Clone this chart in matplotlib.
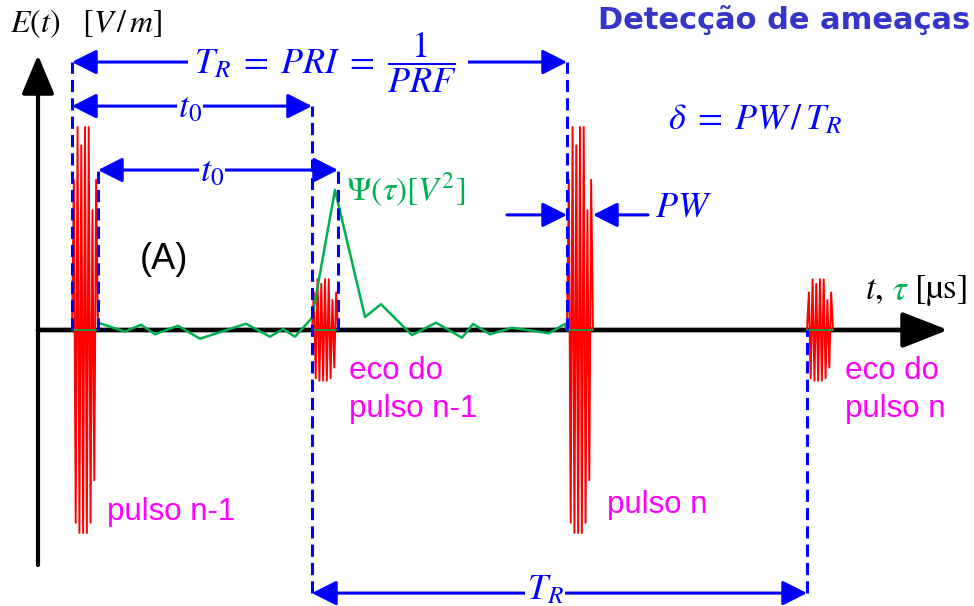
import numpy as np
import matplotlib
matplotlib.use('Agg')
import matplotlib.pyplot as plt

plt.rcParams['mathtext.fontset'] = 'stix'
plt.rcParams['font.family'] = ['Liberation Sans', 'DejaVu Sans']

# Timing of the pulse train (arbitrary time units)
T_R = 495        # pulse repetition interval
t0 = 240         # echo delay
PW = 26          # pulse width
pulse_starts = [0, T_R]
echo_starts = [t0, T_R + t0]
pulse_amp = 1.0
echo_amp = 0.25

# Normalised carrier samples inside one pulse
carrier = [0.0, 0.74, -0.95, 1.0, -1.0, 0.91, -1.0, 1.0, -1.0, 1.0, -0.95, 0.59, -0.74, 0.74, 0.0]

# Matched-filter output Psi(tau)
psi_t = [26, 53, 69, 83, 106, 128, 174, 198, 211, 223, 240, 263, 293, 309,
         340, 364, 390, 401, 418, 440, 477, 493, 495]
psi_v = [0.036, -0.008, 0.026, -0.021, 0.021, -0.043, 0.031, -0.033, 0.005,
         -0.033, 0.06, 0.69, 0.064, 0.127, -0.025, 0.036, -0.038, 0.030,
         -0.021, 0.011, -0.016, 0.030, 0.0]

blue = '#0000FF'
green = '#00B050'
magenta = '#FF00FF'
red = '#FF0000'

fig = plt.figure(figsize=(9.74, 6.06), dpi=100)
ax = fig.add_axes([0, 0, 1, 1])
ax.set_xlim(-72, 902)
ax.set_ylim(-276 / 203, 330 / 203)
ax.axis('off')

# Axes arrows
ax.annotate('', xy=(-34, 1.355), xytext=(-34, -1.158),
            arrowprops=dict(arrowstyle='-|>,head_length=1.2,head_width=0.5',
                            mutation_scale=20, lw=3.0, color='black',
                            shrinkA=0, shrinkB=0))
ax.annotate('', xy=(876, 0), xytext=(-34, 0),
            arrowprops=dict(arrowstyle='-|>,head_length=1.4,head_width=0.55',
                            mutation_scale=20, lw=3.4, color='black',
                            shrinkA=0, shrinkB=0), zorder=1)

# Pulses and echoes
for s in pulse_starts:
    x = np.linspace(s, s + PW, len(carrier))
    ax.plot(x, pulse_amp * np.array(carrier), color=red, lw=1.4, zorder=3)
    ax.plot([s, s + PW], [0, 0], color=green, lw=1.2, zorder=4)
for s in echo_starts:
    x = np.linspace(s, s + PW, len(carrier))
    ax.plot(x, echo_amp * np.array(carrier), color=red, lw=1.4, zorder=3)
    ax.plot([s, s + PW], [0, 0], color=green, lw=1.2, zorder=4)

# Psi curve
ax.plot(psi_t, psi_v, color=green, lw=1.8, zorder=4)

# Dashed guide lines
dash = dict(color=blue, lw=2.2, dashes=(4, 2), zorder=5)
ax.plot([0, 0], [0, 1.320], **dash)
ax.plot([PW, PW], [0, 0.788], **dash)
ax.plot([t0, t0], [-1.296, 1.103], **dash)
ax.plot([t0 + PW, t0 + PW], [0, 0.788], **dash)
ax.plot([T_R, T_R], [0, 1.320], **dash)
ax.plot([T_R + t0, T_R + t0], [-1.296, 0], **dash)

dbl = dict(arrowstyle='<|-|>,head_length=0.75,head_width=0.38',
           mutation_scale=20, lw=2.2, color=blue, shrinkA=0, shrinkB=0)
one = dict(arrowstyle='-|>,head_length=0.75,head_width=0.38',
           mutation_scale=20, lw=2.2, color=blue, shrinkA=0, shrinkB=0)
lbl = dict(color=blue, ha='center', va='center', zorder=7,
           bbox=dict(facecolor='white', edgecolor='none', pad=1))

ax.annotate('', xy=(0, 1.320), xytext=(T_R, 1.320), arrowprops=dbl)
ax.text(212, 1.310, r'$T_R\;=\;PRI\;=$', fontsize=26, color=blue, ha='center',
        va='center', zorder=7, bbox=dict(facecolor='white', edgecolor='none', pad=4))
ax.text(350, 1.320, r'$\dfrac{1}{PRF}$', fontsize=26, color=blue, ha='center',
        va='center', zorder=7, bbox=dict(facecolor='white', edgecolor='none', pad=8))

ax.annotate('', xy=(0, 1.103), xytext=(t0, 1.103), arrowprops=dbl)
ax.text(118, 1.095, r'$t_0$', fontsize=26, **lbl)

ax.annotate('', xy=(PW, 0.788), xytext=(t0 + PW, 0.788), arrowprops=dbl)
ax.text(140, 0.780, r'$t_0$', fontsize=26, **lbl)

ax.annotate('', xy=(T_R, 0.567), xytext=(435, 0.567), arrowprops=one)
ax.annotate('', xy=(T_R + PW, 0.567), xytext=(576, 0.567), arrowprops=one)
ax.text(583, 0.606, r'$PW$', fontsize=26, color=blue, ha='left', va='center')

ax.annotate('', xy=(t0, -1.296), xytext=(T_R + t0, -1.296), arrowprops=dbl)
ax.text(473, -1.280, r'$T_R$', fontsize=26, **lbl)

# Labels
ax.text(-62, 1.507, r'$E(t)\ \ \ [V\,/\,m]$', fontsize=23, color='black', ha='left', va='center')
ax.text(526, 1.527, 'Detecção de ameaças', fontsize=22, fontweight='bold',
        family=['DejaVu Sans'], color='#3535C8', ha='left', va='center')
ax.text(596, 1.034, r'$\delta\;=\;PW\,/\,T_R$', fontsize=26, color=blue, ha='left', va='center')
ax.text(274, 0.69, r'$\Psi(\tau)[V^2]$', fontsize=24, color=green, ha='left', va='center')
ax.text(68, 0.300, '(A)', fontsize=26, color='black', ha='left', va='baseline')
ax.text(793, 0.197, r'$t,$', fontsize=25, color='black', ha='left', va='center')
ax.text(820, 0.197, r'$\tau$', fontsize=25, color=green, ha='left', va='center')
ax.text(842, 0.197, r'$[\mathrm{µs}]$', fontsize=25, color='black', ha='left', va='center')

mag = dict(fontsize=22.5, color=magenta, ha='left', va='baseline')
ax.text(277, -0.241, 'eco do', **mag)
ax.text(277, -0.429, 'pulso n-1', **mag)
ax.text(773, -0.241, 'eco do', **mag)
ax.text(773, -0.429, 'pulso n', **mag)
ax.text(35, -0.936, 'pulso n-1', **mag)
ax.text(535, -0.901, 'pulso n', **mag)

fig.savefig('out.png', dpi=100)
